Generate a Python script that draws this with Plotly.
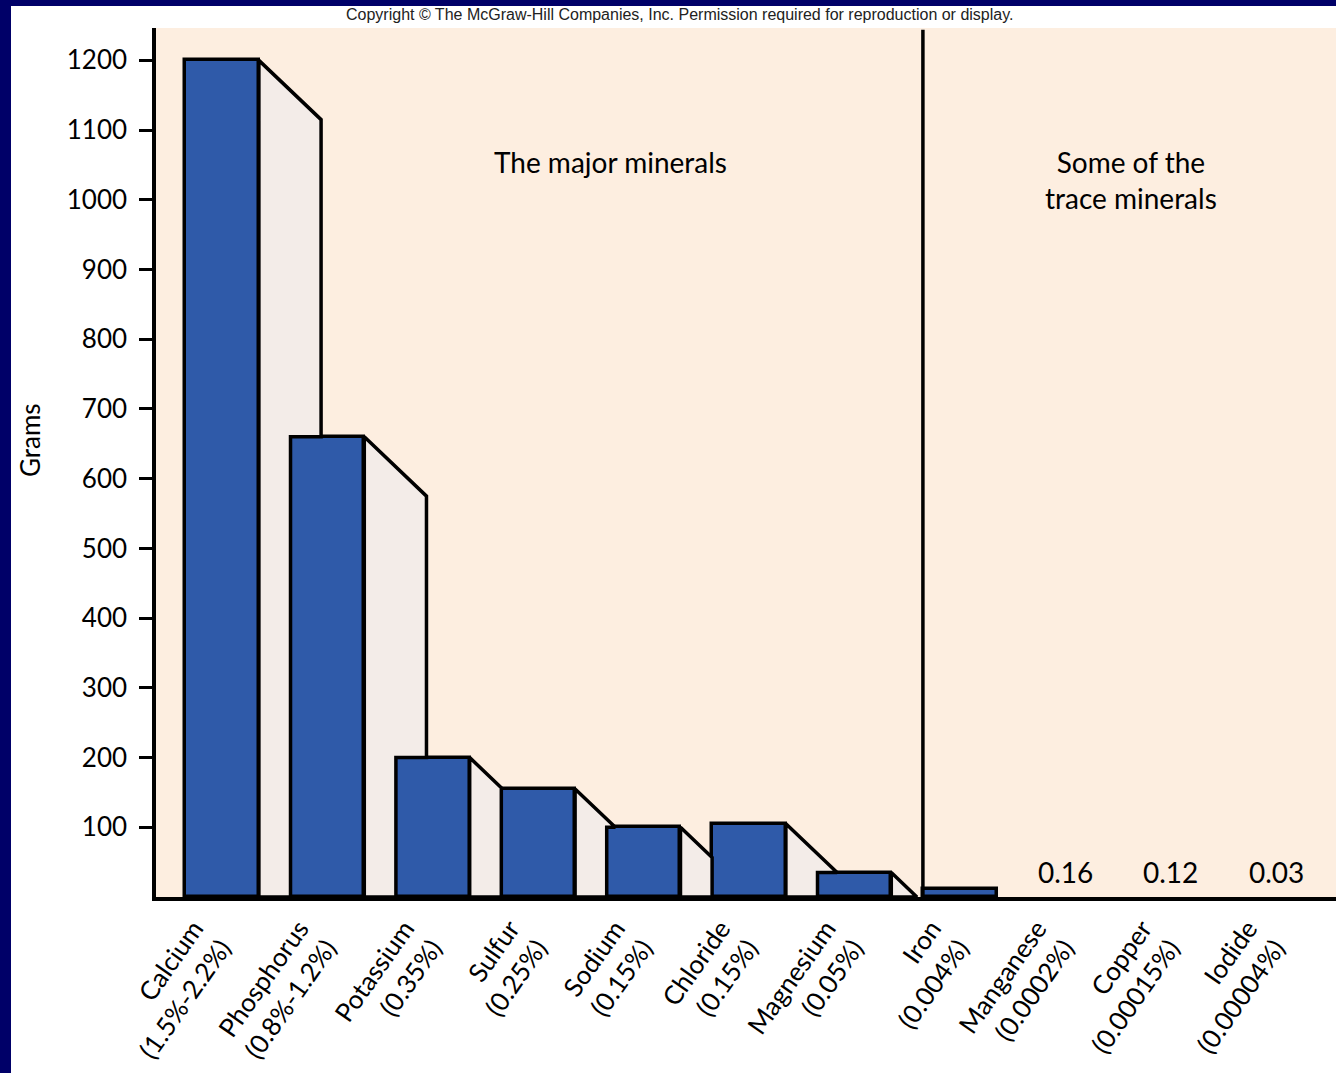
import plotly.graph_objects as go

# Approximate mineral content of an adult body (grams) with share of body weight
minerals = ["Calcium", "Phosphorus", "Potassium", "Sulfur", "Sodium", "Chloride",
            "Magnesium", "Iron", "Manganese", "Copper", "Iodide"]
body_share = ["(1.5%-2.2%)", "(0.8%-1.2%)", "(0.35%)", "(0.25%)", "(0.15%)", "(0.15%)",
              "(0.05%)", "(0.004%)", "(0.0002%)", "(0.00015%)", "(0.00004%)"]
grams = [1200, 660, 200, 155, 100, 105, 35, 12, 0.16, 0.12, 0.03]
n_major = 7                      # first seven are the major minerals
printed_values = [8, 9, 10]      # bars too small to see get their value printed
y_ticks = [100, 200, 300, 400, 500, 600, 700, 800, 900, 1000, 1100, 1200]

# styling
NAVY = "#000068"
PEACH = "#fdeee0"
BAR_BLUE = "#2f5aa9"
FACE_GRAY = "#f3ece8"
FONT = "Lato"
BAR_W = 0.7
DEPTH_X = 0.59          # depth of the side face, category units
DEPTH_Y = 85.0          # drop of the side face, grams
SLOPE = DEPTH_Y / DEPTH_X

xs = list(range(len(minerals)))


def side_face(i):
    """Outline of the visible side face to the right of bar i (hidden behind bar i+1)."""
    v = grams[i]
    xr = xs[i] + BAR_W / 2
    if i + 1 < n_major:
        xl2, v2 = xs[i + 1] - BAR_W / 2, grams[i + 1]
    else:
        xl2, v2 = float("inf"), 0.0
    x_end = xr + min(DEPTH_X, v / SLOPE)
    y_end = v - SLOPE * (x_end - xr)
    pts = [(xr, 0), (xr, v)]
    if x_end <= xl2:
        pts += [(x_end, y_end), (x_end, 0)]
    else:
        y_at = v - SLOPE * (xl2 - xr)
        if y_at <= v2:
            pts += [(xl2, max(y_at, 0)), (xl2, 0)]
        elif y_end >= v2:
            pts += [(x_end, y_end), (x_end, v2), (xl2, v2), (xl2, 0)]
        else:
            x_meet = xr + (v - v2) / SLOPE
            pts += [(x_meet, v2), (xl2, v2), (xl2, 0)]
    pts.append(pts[0])
    return [p[0] for p in pts], [p[1] for p in pts]


fig = go.Figure()

# bars under a gram are thinner than the baseline, so they carry no outline or fill
visible = [g >= 1 for g in grams]
fig.add_trace(go.Bar(
    x=xs, y=grams, width=BAR_W,
    marker=dict(color=[BAR_BLUE if v else "rgba(0,0,0,0)" for v in visible],
                line=dict(color="black", width=[3.5 if v else 0 for v in visible])),
    hoverinfo="skip", showlegend=False,
))

for i in range(n_major):
    fx, fy = side_face(i)
    fig.add_trace(go.Scatter(
        x=fx, y=fy, mode="lines", fill="toself", fillcolor=FACE_GRAY,
        line=dict(color="black", width=3.5), hoverinfo="skip", showlegend=False,
    ))

# plot geometry (pixels)
L, R, T, B = 156, 0, 28, 176
W, H = 1336, 1073
pw, ph = W - L - R, H - T - B


def px_x(px):
    return (px - L) / pw


def px_y(py):
    return (H - B - py) / ph


def note(text, x, y, size, family=FONT, color="black", **kw):
    return dict(text=text, x=px_x(x), y=px_y(y), xref="paper", yref="paper",
                xanchor="center", yanchor="middle", showarrow=False,
                font=dict(family=family, size=size, color=color), **kw)


annotations = [
    note("The major minerals", 610, 162, 28),
    note("Some of the<br>trace minerals", 1131, 180, 28),
    note("Grams", 30, 440, 26, textangle=-90),
    note("Copyright \u00a9 The McGraw-Hill Companies, Inc. Permission required for reproduction or display.",
         679, 14, 16, family="Liberation Sans", color="#222222"),
]
for i in printed_values:
    annotations.append(dict(
        text=f"{grams[i]:g}", x=xs[i], y=grams[i], xref="x", yref="y", yshift=25,
        xanchor="center", yanchor="middle",
        showarrow=False, font=dict(family=FONT, size=28, color="black"),
    ))

shapes = [
    # divider between major and trace minerals, at the left edge of the first trace bar
    dict(type="line", xref="x", yref="paper", x0=xs[n_major] - BAR_W / 2,
         x1=xs[n_major] - BAR_W / 2, y0=0, y1=0.998, line=dict(color="black", width=3.5)),
    # navy frame strips
    dict(type="rect", xref="paper", yref="paper", x0=px_x(-2), x1=px_x(11), y0=px_y(H + 2),
         y1=px_y(-2), fillcolor=NAVY, line=dict(width=0), layer="above"),
    dict(type="rect", xref="paper", yref="paper", x0=px_x(-2), x1=px_x(W + 2), y0=px_y(6),
         y1=px_y(-2), fillcolor=NAVY, line=dict(width=0), layer="above"),
]

fig.update_layout(
    width=W, height=H,
    margin=dict(l=L, r=R, t=T, b=B, pad=0),
    paper_bgcolor="white", plot_bgcolor=PEACH,
    showlegend=False,
    annotations=annotations, shapes=shapes,
    bargap=0,
)
fig.update_xaxes(
    range=[(L - 222) / 105.4, (W - R - 222) / 105.4],
    tickvals=xs,
    ticktext=[f"{m}<br>{s}" for m, s in zip(minerals, body_share)],
    tickangle=-55, ticks="", showgrid=False, zeroline=False,
    showline=True, linecolor="black", linewidth=4,
    tickfont=dict(family=FONT, size=26, color="black"),
    ticklabelshift=-28, ticklabelstandoff=2,
)
fig.update_yaxes(
    range=[0, ph / 0.6972],
    tickvals=y_ticks, ticks="outside", ticklen=13, tickwidth=3, tickcolor="black",
    showgrid=False, zeroline=False, showline=True, linecolor="black", linewidth=3.5,
    tickfont=dict(family=FONT, size=26, color="black"), ticklabelstandoff=7,
)

fig.write_html("out.html")
